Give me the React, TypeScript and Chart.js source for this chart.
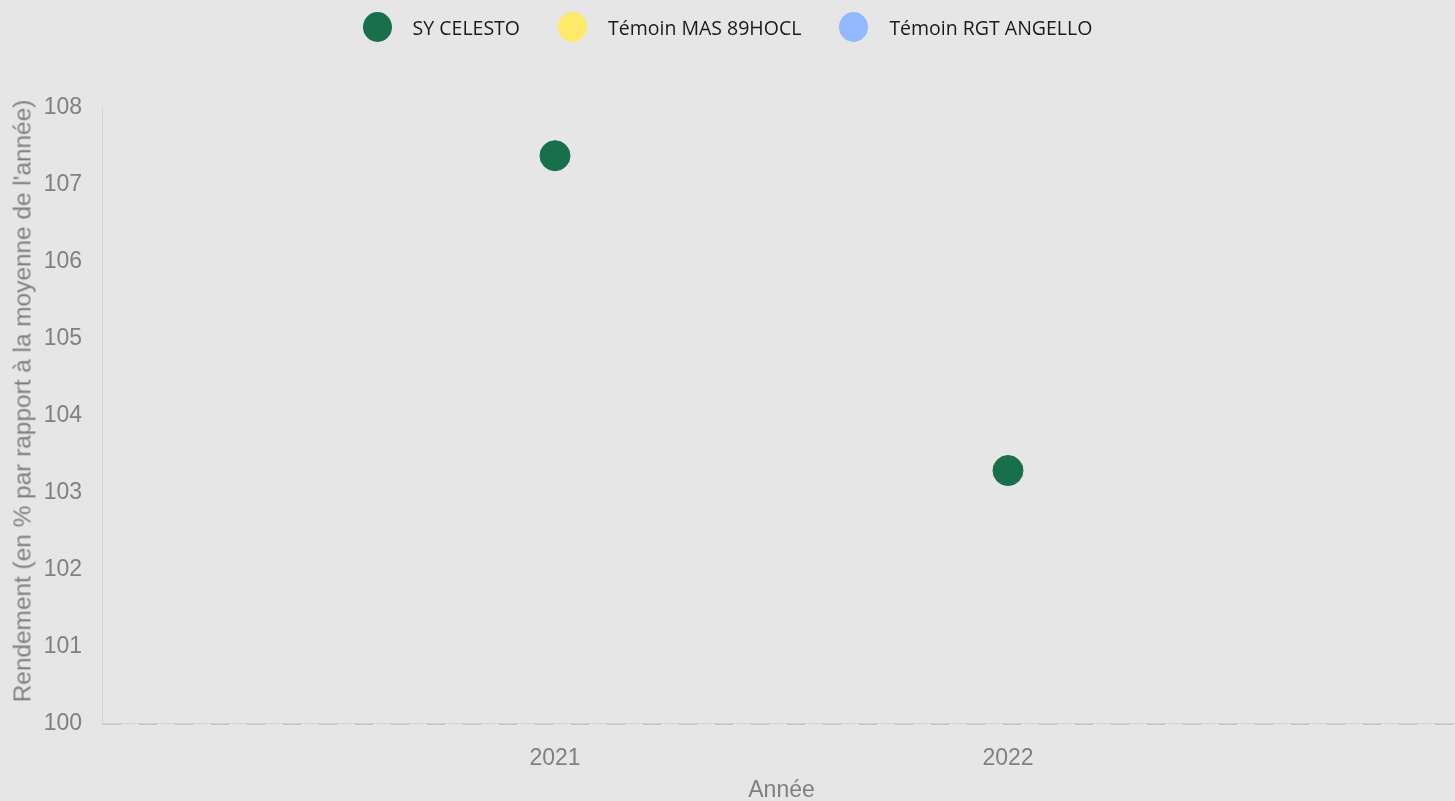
import React, { useEffect, useRef } from "react";
import { Chart, registerables } from "chart.js";

Chart.register(...registerables);

const seriesNames = ["SY CELESTO", "Témoin MAS 89HOCL", "Témoin RGT ANGELLO"];
const seriesColors = ["#17704b", "#ffe96b", "#94b8ff"];
const years = [2021, 2022];
const celestoValues = [107.38, 103.29];
const masValues: number[] = [];
const rgtValues: number[] = [];
const yTicks = [100, 101, 102, 103, 104, 105, 106, 107, 108];
const yTitle = "Rendement (en % par rapport à la moyenne de l'année)";
const xTitle = "Année";

const axisFont = "'Liberation Sans', Arial, sans-serif";

export default function App() {
  const ref = useRef<HTMLCanvasElement | null>(null);
  useEffect(() => {
    document.body.style.margin = "0";
    document.body.style.background = "#e6e6e6";
    document.body.style.overflow = "hidden";
    const toPts = (vals: number[]) => vals.map((v, i) => ({ x: years[i], y: v }));
    const allValues = [celestoValues, masValues, rgtValues];
    const chart = new Chart(ref.current!, {
      type: "scatter",
      data: {
        datasets: seriesNames.map((n, i) => ({
          label: n,
          data: toPts(allValues[i]),
          backgroundColor: seriesColors[i],
          borderColor: seriesColors[i],
          pointRadius: 15,
          pointHoverRadius: 15,
          borderWidth: 1,
        })),
      },
      options: {
        animation: false,
        responsive: false,
        layout: { autoPadding: false, padding: { left: 0, right: 0, top: 108, bottom: 0 } },
        plugins: {
          tooltip: { enabled: false },
          legend: { display: false },
        },
        scales: {
          x: {
            type: "linear",
            min: 2020,
            max: 2023,
            afterBuildTicks: (axis: any) => {
              axis.ticks = [2020, ...years, 2023].map((v) => ({ value: v }));
            },
            afterFit: (axis: any) => {
              axis.paddingLeft = 0;
              axis.paddingRight = 0;
            },
            ticks: {
              padding: 21,
              color: "#808080",
              font: { family: axisFont, size: 23 },
              callback: (v: any) => (years.includes(Number(v)) ? String(v) : ""),
            },
            grid: { display: false, drawTicks: false },
            border: { display: true, color: "#d2d2d2", width: 1 },
            title: {
              display: true,
              text: xTitle,
              color: "#808080",
              padding: { top: -17, bottom: 2 },
              font: { family: axisFont, size: 23 },
            },
          },
          y: {
            min: 100,
            max: 108,
            afterBuildTicks: (axis: any) => {
              axis.ticks = yTicks.map((v) => ({ value: v }));
            },
            afterFit: (axis: any) => {
              axis.width = 102;
            },
            ticks: {
              padding: 20,
              color: "#808080",
              font: { family: axisFont, size: 23 },
            },
            grid: {
              drawTicks: false,
              color: (c: any) => (c.tick && c.tick.value === 100 ? "#c4c4c4" : "rgba(0,0,0,0)"),
              lineWidth: 2,
            },
            border: { display: true, color: "#d2d2d2", width: 1, dash: [18, 18] },
            title: { display: false },
          },
        },
      },
    });
    return () => chart.destroy();
  }, []);
  return (
    <div style={{ position: "relative", width: 1455, height: 801, overflow: "hidden", background: "#e6e6e6" }}>
      <div
        style={{
          position: "absolute",
          top: 12,
          left: 0,
          width: 1455,
          display: "flex",
          justifyContent: "center",
          alignItems: "center",
          gap: 38,
          fontFamily: "'Open Sans', sans-serif",
          fontSize: 19.5,
          color: "#1a1a1a",
          height: 30,
        }}
      >
        {seriesNames.map((n, i) => (
          <div key={n} style={{ display: "flex", alignItems: "center" }}>
            <span
              style={{
                display: "inline-block",
                width: 29,
                height: 30,
                borderRadius: "50%",
                background: seriesColors[i],
                marginRight: 21,
              }}
            />
            <span>{n}</span>
          </div>
        ))}
      </div>
      <div
        style={{
          position: "absolute",
          left: 22,
          top: 401,
          transform: "translate(-50%, -50%) rotate(-90deg)",
          whiteSpace: "nowrap",
          fontFamily: axisFont,
          fontSize: 24.4,
          lineHeight: "29px",
          color: "#808080",
        }}
      >
        {yTitle}
      </div>
      <canvas ref={ref} width={1461} height={806} style={{ display: "block" }} />
    </div>
  );
}
